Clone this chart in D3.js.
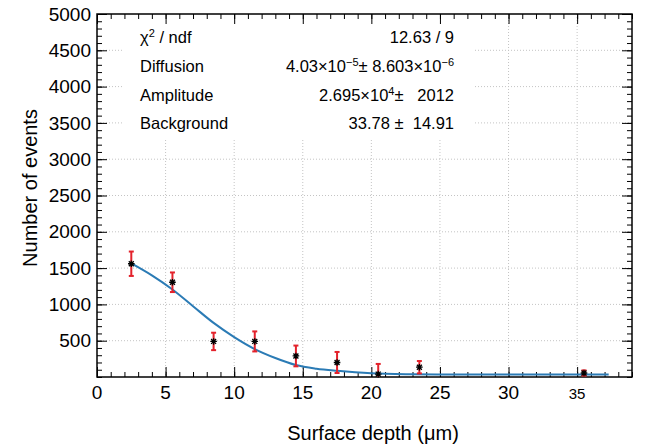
<!DOCTYPE html>
<html>
<head>
<meta charset="utf-8">
<script src="https://cdn.jsdelivr.net/npm/d3@7"></script>
<style>
  body { margin: 0; background: #fff; }
  text { font-family: "Liberation Sans", Arial, sans-serif; fill: #000; }
</style>
</head>
<body>
<div class="chart"></div>
<script>
// measured points (depth in um, counts, error)
var depth = [2.5, 5.5, 8.5, 11.5, 14.5, 17.5, 20.5, 23.5, 35.5];
var counts = [1560, 1305, 490, 490, 290, 200, 40, 135, 55];
var errors = [168, 135, 120, 138, 143, 145, 140, 85, 36];

// fitted curve
var fitX = [2.5, 4, 5.5, 7, 8.5, 10, 11.5, 13, 14.5, 16, 17.5, 20, 22.5, 25, 30, 37.3];
var fitY = [1565, 1400, 1205, 975, 745, 550, 385, 262, 165, 115, 85, 50, 38, 35, 34, 34];

var xTicks = [0, 5, 10, 15, 20, 25, 30, 35];
var yTicks = [500, 1000, 1500, 2000, 2500, 3000, 3500, 4000, 4500, 5000];

var statNames = ["ndf", "Diffusion", "Amplitude", "Background"];

var svgWidth = 646;
var svgHeight = 446;
var margin = { top: 14, right: 14, bottom: 69, left: 97 };
var width = svgWidth - margin.left - margin.right;
var height = svgHeight - margin.top - margin.bottom;

var svg = d3.select(".chart")
  .append("svg")
  .attr("width", svgWidth)
  .attr("height", svgHeight);

var chart = svg.append("g")
  .attr("transform", "translate(" + margin.left + "," + margin.top + ")");

var x = d3.scaleLinear().domain([0, 39]).range([0, width]);
var y = d3.scaleLinear().domain([0, 5000]).range([height, 0]);

// grid
var grid = chart.append("g")
  .attr("stroke", "#c4c4c4")
  .attr("stroke-width", 1)
  .attr("stroke-dasharray", "1,2");
grid.selectAll(".gx").data(xTicks.slice(1)).enter().append("line")
  .attr("x1", function(d) { return x(d); }).attr("x2", function(d) { return x(d); })
  .attr("y1", 0).attr("y2", height);
grid.selectAll(".gy").data(yTicks.slice(0, -1)).enter().append("line")
  .attr("x1", 0).attr("x2", width)
  .attr("y1", function(d) { return y(d); }).attr("y2", function(d) { return y(d); });

// white stats box hides grid behind it
chart.append("rect")
  .attr("x", 122 - margin.left).attr("y", 0)
  .attr("width", 351).attr("height", 139 - margin.top)
  .attr("fill", "#fff");

// ticks on all four sides, pointing inward
var minorX = d3.range(0, 40, 1);
var minorY = d3.range(0, 5001, 100);
function tickAxis(axis, vals, size) {
  return axis.tickValues(vals).tickSize(-size).tickFormat("");
}
var axes = [
  [d3.axisBottom(x), "translate(0," + height + ")", xTicks, minorX],
  [d3.axisTop(x), "translate(0,0)", xTicks, minorX],
  [d3.axisLeft(y), "translate(0,0)", yTicks, minorY],
  [d3.axisRight(y), "translate(" + width + ",0)", yTicks, minorY]
];
axes.forEach(function(a) {
  [[a[2], 10], [a[3], 5]].forEach(function(t) {
    var g = chart.append("g")
      .attr("transform", a[1])
      .call(tickAxis(a[0], t[0], t[1]));
    g.select(".domain").remove();
    g.selectAll("line").attr("stroke", "#000").attr("stroke-width", 1);
  });
});

// frame
chart.append("rect")
  .attr("width", width).attr("height", height)
  .attr("fill", "none").attr("stroke", "#000").attr("stroke-width", 1.5);

// tick labels
chart.selectAll(".xl").data(xTicks).enter().append("text")
  .attr("x", function(d) { return x(d); })
  .attr("y", height + 22)
  .attr("text-anchor", "middle")
  .style("font-size", function(d) { return d == 35 ? "15px" : "19px"; })
  .text(function(d) { return d; });

chart.selectAll(".yl").data(yTicks).enter().append("text")
  .attr("x", -6)
  .attr("y", function(d) { return y(d); })
  .attr("dy", "0.35em")
  .attr("text-anchor", "end")
  .style("font-size", "19px")
  .text(function(d) { return d; });

// axis titles
svg.append("text")
  .attr("transform", "translate(37,188) rotate(-90)")
  .attr("text-anchor", "middle")
  .style("font-size", "20px")
  .text("Number of events");

svg.append("text")
  .attr("x", 373).attr("y", 440)
  .attr("text-anchor", "middle")
  .style("font-size", "20px")
  .text("Surface depth (\u03bcm)");

// fit curve
var line = d3.line()
  .x(function(d) { return x(d[0]); })
  .y(function(d) { return y(d[1]); })
  .curve(d3.curveMonotoneX);
chart.append("path")
  .datum(d3.zip(fitX, fitY))
  .attr("d", line)
  .attr("fill", "none")
  .attr("stroke", "#2b7bb5")
  .attr("stroke-width", 2);

// error bars
var pts = d3.zip(depth, counts, errors);
var eb = chart.append("g").attr("stroke", "#e3222b").attr("stroke-width", 2);
pts.forEach(function(p) {
  var lo = Math.max(p[1] - p[2], 0), hi = p[1] + p[2];
  eb.append("line")
    .attr("x1", x(p[0])).attr("x2", x(p[0]))
    .attr("y1", y(lo)).attr("y2", y(hi));
  eb.append("line")
    .attr("x1", x(p[0]) - 2.5).attr("x2", x(p[0]) + 2.5)
    .attr("y1", y(hi)).attr("y2", y(hi));
  if (p[1] - p[2] > 0) {
    eb.append("line")
      .attr("x1", x(p[0]) - 2.5).attr("x2", x(p[0]) + 2.5)
      .attr("y1", y(lo)).attr("y2", y(lo));
  }
});

// star markers
var r = 3.3;
chart.selectAll(".pt").data(pts).enter().append("path")
  .attr("transform", function(d) { return "translate(" + x(d[0]) + "," + y(d[1]) + ")"; })
  .attr("d", "M" + (-r) + ",0H" + r + "M0," + (-r) + "V" + r +
    "M" + (-r * 0.75) + "," + (-r * 0.75) + "L" + (r * 0.75) + "," + (r * 0.75) +
    "M" + (-r * 0.75) + "," + (r * 0.75) + "L" + (r * 0.75) + "," + (-r * 0.75))
  .attr("stroke", "#000")
  .attr("stroke-width", 1.3)
  .attr("fill", "none");

// stats box text
var rowY = [43.3, 72, 100.7, 129.4];
var stats = svg.append("g").style("font-size", "16.5px");

var t0 = stats.append("text").attr("x", 140).attr("y", rowY[0]);
t0.append("tspan").text("\u03c7");
t0.append("tspan").attr("dy", -6).style("font-size", "11px").text("2");
t0.append("tspan").attr("dy", 6).text(" / " + statNames[0]);
statNames.slice(1).forEach(function(n, i) {
  stats.append("text").attr("x", 140).attr("y", rowY[i + 1]).text(n);
});

var nb = "\u00a0";
var rightCol = [
  [["12.63 / 9", 0]],
  [["4.03\u00d710", 0], ["\u22125", 1], ["\u00b1" + nb + "8.603\u00d710", 0], ["\u22126", 1]],
  [["2.695\u00d710", 0], ["4", 1], ["\u00b1" + nb + nb + " 2012", 0]],
  [["33.78 \u00b1" + nb + nb + "14.91", 0]]
];
rightCol.forEach(function(parts, i) {
  var t = stats.append("text")
    .attr("x", 454).attr("y", rowY[i])
    .attr("text-anchor", "end");
  var up = 0;
  parts.forEach(function(p) {
    var dy = p[1] ? -6 - up : -up;
    up = p[1] ? -6 : 0;
    var s = t.append("tspan").attr("dy", dy).text(p[0]);
    if (p[1]) s.style("font-size", "11px");
  });
});
</script>
</body>
</html>
